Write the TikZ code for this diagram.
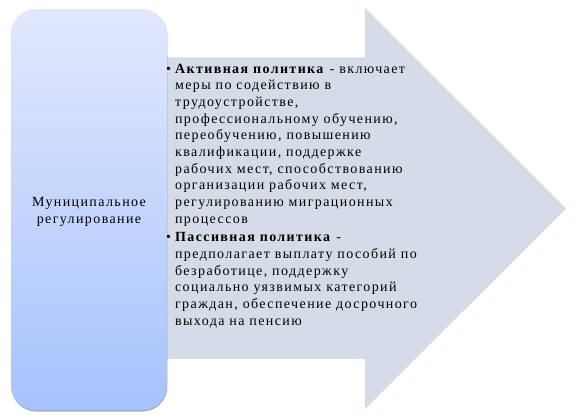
\documentclass[tikz,border=0pt]{standalone}
\usepackage{fontspec}
\setmainfont{Liberation Serif}[LetterSpace=10]
\usepackage{tikz}
\usetikzlibrary{calc,positioning,shadows}
\definecolor{arrowfill}{HTML}{D5DCE8}
\definecolor{boxtop}{HTML}{E1E8FC}
\definecolor{boxbottom}{HTML}{A6C3FD}
\tikzstyle{munbox} = [rectangle, rounded corners=25pt, top color=boxtop, bottom color=boxbottom,
  draw=none, minimum width=156pt, minimum height=401pt,
  drop shadow={shadow xshift=0.4pt, shadow yshift=-1.6pt, fill=black!45, opacity=.7}]
\tikzstyle{item} = [inner sep=0pt, anchor=north west, font={\fontsize{14}{16.67}\selectfont}]
\begin{document}
\begin{tikzpicture}[x=1pt, y=-1pt]
      \useasboundingbox (0,0) rectangle (576,419);
      \coordinate (tail top) at (150,57.3);
      \coordinate (tail bottom) at (150,359);
      \coordinate (tip) at (566,208.5);
      \fill [arrowfill] (tail top) -- (365,57.3) -- (365,8) -- (tip)
        -- (365,409) -- (365,359) -- (tail bottom) -- cycle;
      \node [munbox] at (89,209.5) (mun) {};
      \node [item, anchor=north] at ($(mun.center)+(0,-14.5)$) (munlabel)
        {\begin{tabular}[t]{@{}c@{}}
          Муниципальное\\
          регулирование
        \end{tabular}};
      \node [item] at (166,61.3) (active)
        {\begin{tabular}{@{}l@{\hspace{4pt}}l@{}}
          \textbullet & \textbf{Активная политика} - включает\\
          & меры по содействию в\\
          & трудоустройстве,\\
          & профессиональному обучению,\\
          & переобучению, повышению\\
          & квалификации, поддержке\\
          & рабочих мест, способствованию\\
          & организации рабочих мест,\\
          & регулированию миграционных\\
          & процессов
        \end{tabular}};
      \node [item, below=1.6pt of active.south west, anchor=north west] (passive)
        {\begin{tabular}{@{}l@{\hspace{4pt}}l@{}}
          \textbullet & \textbf{Пассивная политика} -\\
          & предполагает выплату пособий по\\
          & безработице, поддержку\\
          & социально уязвимых категорий\\
          & граждан, обеспечение досрочного\\
          & выхода на пенсию
        \end{tabular}};
    \end{tikzpicture}
\end{document}
